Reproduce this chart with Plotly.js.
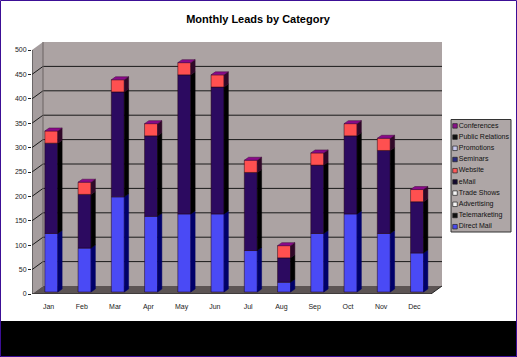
<!DOCTYPE html>
<html><head><meta charset="utf-8"><script src="https://cdn.plot.ly/plotly-3.0.1.min.js"></script>
<style>html,body{margin:0;padding:0;background:#fff}#c{width:517px;height:357px}</style></head>
<body><div id="c"></div><script>
const months=['Jan','Feb','Mar','Apr','May','Jun','Jul','Aug','Sep','Oct','Nov','Dec'];
const directMail=[120,90,195,155,160,160,85,20,120,160,120,80];
const telemarketing=[0,0,0,0,0,0,0,0,0,0,0,0];
const advertising=[0,0,0,0,0,0,0,0,0,0,0,0];
const tradeShows=[0,0,0,0,0,0,0,0,0,0,0,0];
const eMail=[185,110,215,165,285,260,160,50,140,160,170,105];
const website=[25,25,25,25,25,25,25,25,25,25,25,25];
const seminars=[0,0,0,0,0,0,0,0,0,0,0,0];
const promotions=[0,0,0,0,0,0,0,0,0,0,0,0];
const publicRelations=[0,0,0,0,0,0,0,0,0,0,0,0];
const conferences=[0,0,0,0,0,0,0,0,0,0,0,0];
const yTicks=[0,50,100,150,200,250,300,350,400,450,500];
const legendNames=['Direct Mail','Telemarketing','Advertising','Trade Shows','eMail','Website','Seminars','Promotions','Public Relations','Conferences'];
const legendColors=['#4a4af0','#101010','#f4f4f4','#f4f4f4','#14082e','#ff5a5a','#2a2a80','#c8c8ee','#101010','#8a108a'];
const chartTitle='Monthly Leads by Category';

const W=517,H=357,L=32,R=442,T=42,B=294,pxU=33.25,pxV=0.488;
const xMax=(R-L)/pxU, yMax=(B-T)/pxV;
const dX=11/pxU, dY=8/pxV;            // wall depth in axis units
const offX=2.7/pxU, offY=2/pxV;       // bar front offset from the front plane
const depX=4.3/pxU, depY=3/pxV;       // bar depth
const barW=13/pxU;
const px=(x)=>x/W, py=(y)=>1-y/H;

function poly(xs,ys,fill,line){
  let p='M'+xs.map((x,i)=>x+','+ys[i]).join('L')+'Z';
  return {type:'path',path:p,xref:'x',yref:'y',fillcolor:fill,line:{width:line?1:0,color:line||fill},layer:'below'};
}
const shapes=[];
// frame pieces
shapes.push({type:'rect',xref:'paper',yref:'paper',x0:0,x1:1,y0:0,y1:py(321),fillcolor:'#000',line:{width:0},layer:'below'});
// walls
shapes.push(poly([dX,xMax,xMax,dX],[dY,dY,yMax,yMax],'#aca3a3'));
shapes.push(poly([0,dX,dX,0],[0,dY,yMax,500],'#a59d9e'));
shapes.push(poly([0,12,xMax,dX],[0,0,dY,dY],'#5c5454'));
yTicks.forEach(v=>{
  if(v===0||v===500) return;
  shapes.push({type:'line',xref:'x',yref:'y',x0:0,y0:v,x1:dX,y1:v+dY,line:{color:'#1a1a1a',width:1},layer:'below'});
  shapes.push({type:'line',xref:'x',yref:'y',x0:dX,y0:v+dY,x1:xMax,y1:v+dY,line:{color:'#1a1a1a',width:1},layer:'below'});
});
shapes.push({type:'line',xref:'x',yref:'y',x0:dX,y0:dY,x1:dX,y1:yMax,line:{color:'#6a6262',width:1},layer:'below'});
shapes.push({type:'line',xref:'x',yref:'y',x0:12,y0:0,x1:xMax,y1:dY,line:{color:'#222',width:1},layer:'below'});
shapes.push({type:'line',xref:'x',yref:'y',x0:0,y0:0,x1:0,y1:500,line:{color:'#333',width:1},layer:'below'});
shapes.push({type:'line',xref:'x',yref:'y',x0:0,y0:0,x1:12,y1:0,line:{color:'#222',width:1},layer:'below'});
// legend box
shapes.push({type:'rect',xref:'paper',yref:'paper',x0:px(451),x1:px(511),y0:py(232),y1:py(119.5),fillcolor:'#aea6a6',line:{width:1,color:'#333'},layer:'below'});
// purple frame
shapes.push({type:'rect',xref:'paper',yref:'paper',x0:px(0.5),x1:px(516.5),y0:py(356.5),y1:py(0.5),fillcolor:'rgba(0,0,0,0)',line:{width:1,color:'#3c0f96'},layer:'above'});

const cx=months.map((m,i)=>i+0.5);
const bx=cx.map(c=>c+offX);
const series=[
 {name:'Direct Mail',v:directMail,front:'#4a4af5',side:'#00006a'},
 {name:'eMail',v:eMail,front:'#2c0a60',side:'#000000'},
 {name:'Website',v:website,front:'#ff5050',side:'#300828'},
];
const traces=[];
const cum=months.map(()=>0);
series.forEach(s=>{
  const base=cum.map(c=>c+offY);
  traces.push({type:'bar',name:s.name,x:bx,y:s.v,base:base,width:barW,marker:{color:s.front,line:{width:0.5,color:'#200010'}},showlegend:false,hoverinfo:'skip'});
  const sx=[],sy=[];
  bx.forEach((b,i)=>{
    const r=b+barW/2, y0=base[i], y1=base[i]+s.v[i];
    sx.push(r,r+depX,r+depX,r,r,null);
    sy.push(y0,y0+depY,y1+depY,y1,y0,null);
  });
  traces.push({type:'scatter',mode:'lines',x:sx,y:sy,fill:'toself',fillcolor:s.side,line:{width:0.5,color:s.side},showlegend:false,hoverinfo:'skip'});
  s.v.forEach((v,i)=>cum[i]+=v);
});
// top faces
const tx=[],ty=[];
bx.forEach((b,i)=>{
  const l=b-barW/2,r=b+barW/2,y=cum[i]+offY;
  tx.push(l,r,r+depX,l+depX,l,null);
  ty.push(y,y,y+depY,y+depY,y,null);
});
traces.push({type:'scatter',mode:'lines',x:tx,y:ty,fill:'toself',fillcolor:'#8a0a8a',line:{width:0.5,color:'#40083c'},showlegend:false,hoverinfo:'skip'});
// x-axis ticks at category boundaries
const tkx=[],tky=[];
for(let i=0;i<=12;i++){tkx.push(i,i,null);tky.push(0,-8,null);}
traces.push({type:'scatter',mode:'lines',x:tkx,y:tky,cliponaxis:false,line:{color:'#222',width:1},showlegend:false,hoverinfo:'skip'});
// legend as its own little subplot
const order=legendNames.map((n,i)=>i);
traces.push({type:'scatter',mode:'markers+text',xaxis:'x2',yaxis:'y2',x:order.map(()=>0),y:order,
  text:legendNames,textposition:'middle right',cliponaxis:false,
  textfont:{family:'Liberation Sans, Arial, sans-serif',size:7,color:'#111'},
  marker:{symbol:'square',size:4.5,color:legendColors,line:{width:0.7,color:'#222'}},showlegend:false,hoverinfo:'skip'});

const layout={width:W,height:H,margin:{l:0,r:0,t:0,b:0},paper_bgcolor:'#fff',plot_bgcolor:'rgba(0,0,0,0)',
 showlegend:false,barmode:'overlay',
 title:{text:'<b>'+chartTitle+'</b>',x:258/W,xanchor:'center',y:1-19/H,yanchor:'middle',font:{family:'Liberation Sans, Arial, sans-serif',size:11,color:'#000'}},
 xaxis:{domain:[px(L),px(R)],range:[0,xMax],tickmode:'array',tickvals:cx,ticktext:months,ticks:'',showgrid:false,zeroline:false,showline:false,
   tickfont:{family:'Liberation Sans, Arial, sans-serif',size:7,color:'#222'},ticklabelstandoff:7},
 yaxis:{domain:[py(B),py(T)],range:[0,yMax],tickmode:'array',tickvals:yTicks,ticktext:yTicks.map(String),ticks:'outside',ticklen:3,tickcolor:'#222',showgrid:false,zeroline:false,showline:false,
   tickfont:{family:'Liberation Sans, Arial, sans-serif',size:7,color:'#222'}},
 xaxis2:{domain:[px(452),px(511)],range:[-3,56],visible:false,anchor:'y2'},
 yaxis2:{domain:[py(232.3),py(120.3)],range:[-0.5,9.5],visible:false,anchor:'x2'},
 shapes:shapes};
Plotly.newPlot('c',traces,layout,{displayModeBar:false,staticPlot:true});
</script></body></html>
